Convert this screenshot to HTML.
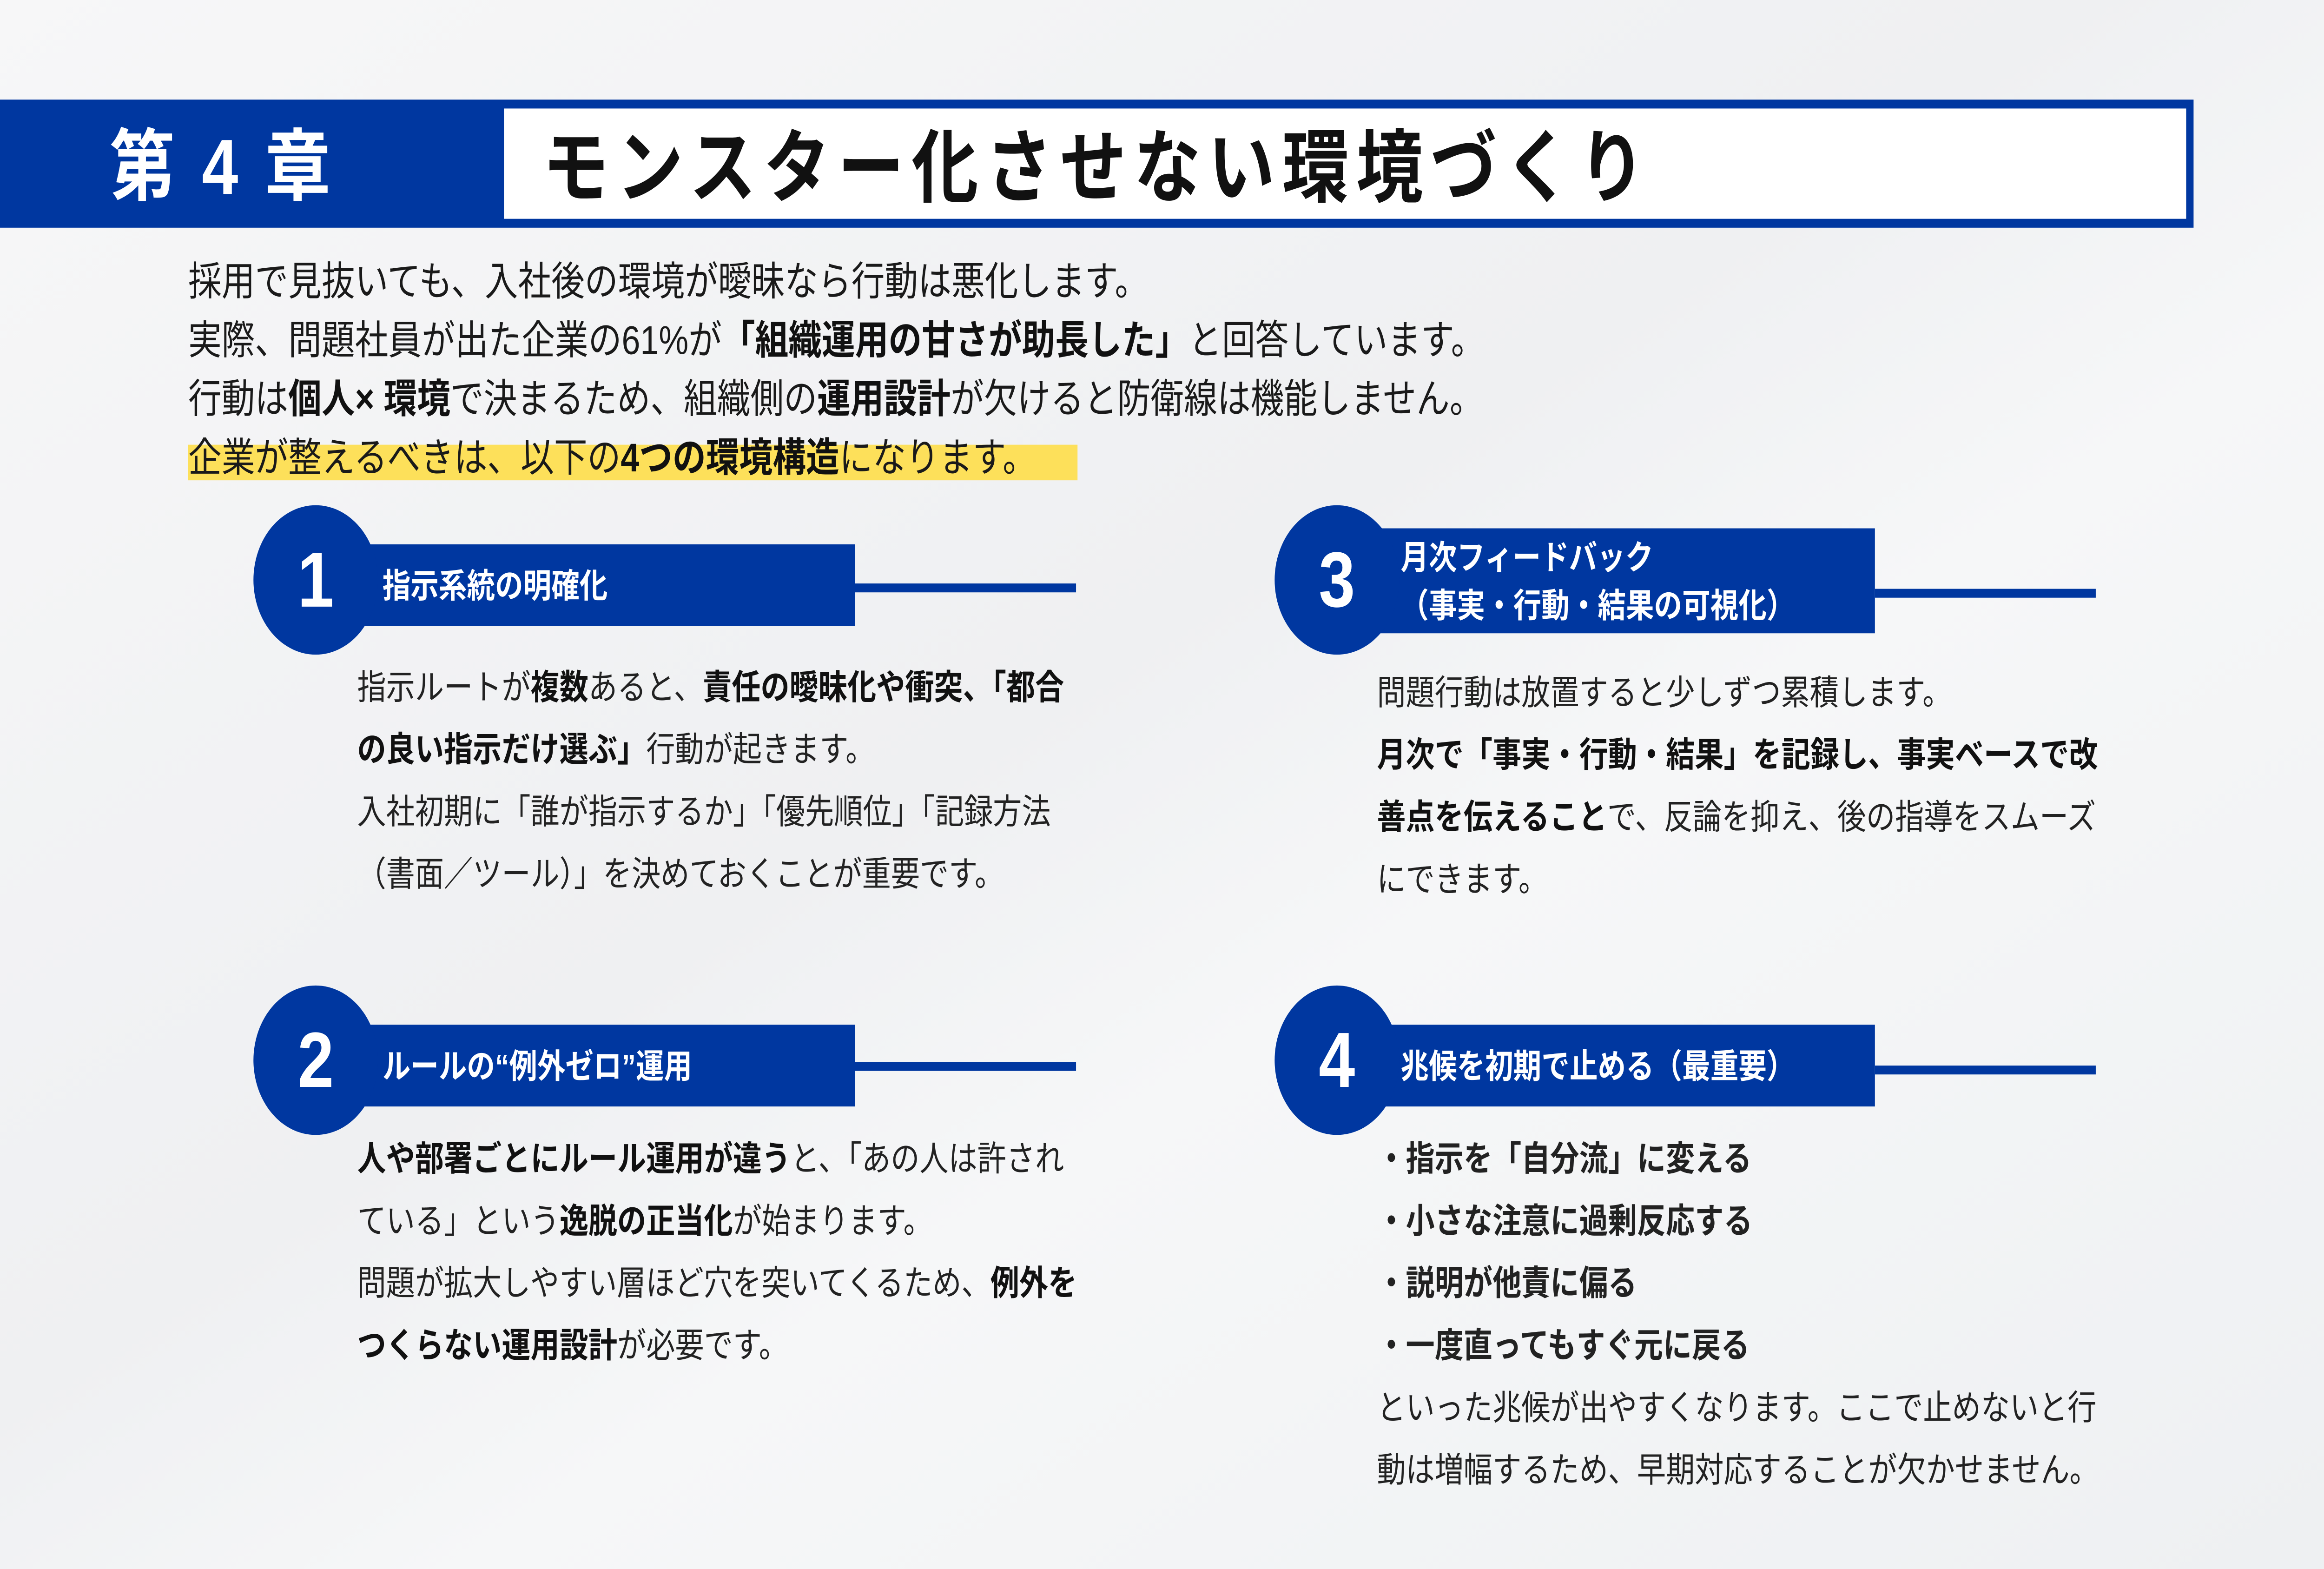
<!DOCTYPE html>
<html><head><meta charset="utf-8">
<style>
html,body{margin:0;padding:0;width:100%;height:100%;overflow:hidden;background:#f3f4f5;}
svg{display:block;width:100vw;height:100vh;}
text{font-family:"Liberation Sans","Noto Sans CJK JP",sans-serif;}
.b{font-weight:bold;fill:#111;}
.body{font-size:19.5px;fill:#222;}
.intro{font-size:22.5px;fill:#1a1a1a;}
.w{fill:#fff;font-weight:bold;}
</style></head><body>
<svg viewBox="0 0 1568 882" preserveAspectRatio="none" xmlns="http://www.w3.org/2000/svg">
<defs><linearGradient id="g" x1="0" y1="0" x2="1" y2="1">
<stop offset="0" stop-color="#f7f7f8"/><stop offset="0.45" stop-color="#eff0f2"/><stop offset="0.6" stop-color="#f6f7f8"/><stop offset="1" stop-color="#eef0f2"/></linearGradient></defs>
<rect width="1568" height="882" fill="url(#g)"/>

<rect x="0" y="56" width="1480" height="72" fill="#0037a0"/>
<rect x="340" y="61" width="1135" height="62" fill="#fff"/>
<text x="74" y="109" class="w" font-size="44" letter-spacing="3">第 4 章</text>
<text x="366" y="110" font-size="45" font-weight="bold" fill="#111" letter-spacing="5">モンスター化させない環境づくり</text>

<rect x="127" y="250" width="600" height="20" fill="#fde05a"/>
<text class="intro" x="127" y="166">採用で見抜いても、入社後の環境が曖昧なら行動は悪化します。</text>
<text class="intro" x="127" y="199">実際、問題社員が出た企業の61%が<tspan class="b">「組織運用の甘さが助長した」</tspan>と回答しています。</text>
<text class="intro" x="127" y="232">行動は<tspan class="b">個人× 環境</tspan>で決まるため、組織側の<tspan class="b">運用設計</tspan>が欠けると防衛線は機能しません。</text>
<text class="intro" x="127" y="265">企業が整えるべきは、以下の<tspan class="b">4つの環境構造</tspan>になります。</text>

<!-- card 1 -->
<rect x="240" y="306" width="337" height="46" fill="#0037a0"/>
<rect x="577" y="328" width="149" height="5" fill="#0037a0"/>
<circle cx="213" cy="326" r="42" fill="#0037a0"/>
<text x="213" y="341" class="w" font-size="44" text-anchor="middle">1</text>
<text x="258" y="336" class="w" font-size="19">指示系統の明確化</text>
<text class="body" x="241" y="393">指示ルートが<tspan class="b">複数</tspan>あると、<tspan class="b">責任の曖昧化や衝突、「都合</tspan></text>
<text class="body" x="241" y="428"><tspan class="b">の良い指示だけ選ぶ」</tspan>行動が起きます。</text>
<text class="body" x="241" y="463">入社初期に「誰が指示するか」「優先順位」「記録方法</text>
<text class="body" x="241" y="498">（書面／ツール）」を決めておくことが重要です。</text>

<!-- card 2 -->
<rect x="240" y="576" width="337" height="46" fill="#0037a0"/>
<rect x="577" y="597" width="149" height="5" fill="#0037a0"/>
<circle cx="213" cy="596" r="42" fill="#0037a0"/>
<text x="213" y="611" class="w" font-size="44" text-anchor="middle">2</text>
<text x="258" y="606" class="w" font-size="19">ルールの“例外ゼロ”運用</text>
<text class="body" x="241" y="658"><tspan class="b">人や部署ごとにルール運用が違う</tspan>と、「あの人は許され</text>
<text class="body" x="241" y="693">ている」という<tspan class="b">逸脱の正当化</tspan>が始まります。</text>
<text class="body" x="241" y="728">問題が拡大しやすい層ほど穴を突いてくるため、<tspan class="b">例外を</tspan></text>
<text class="body" x="241" y="763"><tspan class="b">つくらない運用設計</tspan>が必要です。</text>

<!-- card 3 -->
<rect x="929" y="297" width="336" height="59" fill="#0037a0"/>
<rect x="1265" y="331" width="149" height="5" fill="#0037a0"/>
<circle cx="902" cy="326" r="42" fill="#0037a0"/>
<text x="902" y="341" class="w" font-size="44" text-anchor="middle">3</text>
<text x="945" y="320" class="w" font-size="19">月次フィードバック</text>
<text x="945" y="347" class="w" font-size="19">（事実・行動・結果の可視化）</text>
<text class="body" x="929" y="396">問題行動は放置すると少しずつ累積します。</text>
<text class="body" x="929" y="431"><tspan class="b">月次で「事実・行動・結果」を記録し、事実ベースで改</tspan></text>
<text class="body" x="929" y="466"><tspan class="b">善点を伝えること</tspan>で、反論を抑え、後の指導をスムーズ</text>
<text class="body" x="929" y="501">にできます。</text>

<!-- card 4 -->
<rect x="929" y="576" width="336" height="46" fill="#0037a0"/>
<rect x="1265" y="599" width="149" height="5" fill="#0037a0"/>
<circle cx="902" cy="596" r="42" fill="#0037a0"/>
<text x="902" y="611" class="w" font-size="44" text-anchor="middle">4</text>
<text x="945" y="606" class="w" font-size="19">兆候を初期で止める（最重要）</text>
<text class="body b" x="929" y="658">・指示を「自分流」に変える</text>
<text class="body b" x="929" y="693">・小さな注意に過剰反応する</text>
<text class="body b" x="929" y="728">・説明が他責に偏る</text>
<text class="body b" x="929" y="763">・一度直ってもすぐ元に戻る</text>
<text class="body" x="929" y="798">といった兆候が出やすくなります。ここで止めないと行</text>
<text class="body" x="929" y="833">動は増幅するため、早期対応することが欠かせません。</text>
</svg>
</body></html>
